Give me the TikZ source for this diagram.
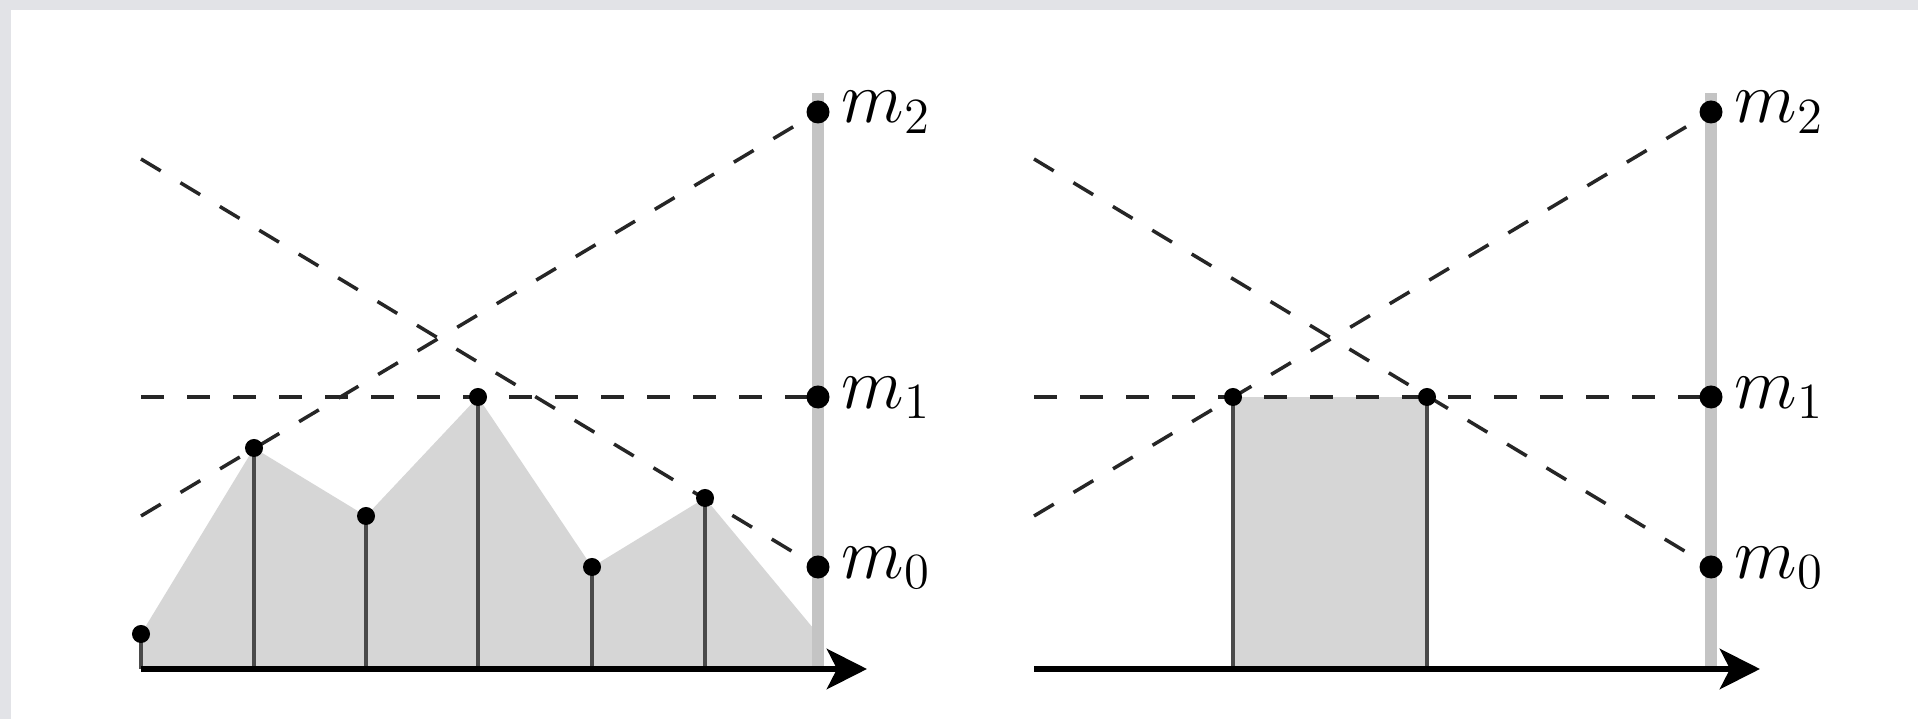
\documentclass[tikz,border=0pt]{standalone}
\usetikzlibrary{arrows.meta}
\definecolor{fillgray}{HTML}{D6D6D6}
\definecolor{bargray}{HTML}{C4C4C4}
\definecolor{stemgray}{HTML}{4A4A4A}
\definecolor{framegray}{HTML}{E2E3E7}
\begin{document}
\begin{tikzpicture}[x=0.01cm,y=-0.01cm,
  dashline/.style={dash pattern=on 0.23cm off 0.23cm, line width=0.035cm, color=black!85},
  stemline/.style={line width=0.038cm, stemgray},
  dotnode/.style={circle, fill=black, inner sep=0pt, minimum size=0.18cm},
  mdot/.style={circle, fill=black, inner sep=0pt, minimum size=0.23cm},
  barline/.style={line width=0.12cm, bargray},
  axisline/.style={line width=0.065cm, -{Stealth[length=0.4cm, width=0.4cm, inset=0.1cm]}},
  mlabel/.style={anchor=base west, inner sep=0pt, xshift=0.23cm, yshift=-0.11cm, font=\fontsize{21}{25}\selectfont},
  areafill/.style={fill=fillgray}]
\useasboundingbox (0,0) rectangle (1918,719);
\fill[white] (0,0) rectangle (1918,719);
\fill[framegray] (0,0) rectangle (1918,10);
\fill[framegray] (0,0) rectangle (11,719);

% ---------- left panel ----------
\coordinate (Lo) at (141,669);
\coordinate (Lend) at (867,669);
\coordinate (Lbt) at (818,93);
\coordinate (Lbb) at (818,669);
\coordinate (Lc2) at (818,112);
\coordinate (Lc1) at (818,397);
\coordinate (Lc0) at (818,567);
\coordinate (Ld0) at (141,159);
\coordinate (Li0) at (141,516);
\coordinate (Lh0) at (141,397);
\coordinate (Lq0) at (141,634);
\coordinate (Lq1) at (254,448);
\coordinate (Lq2) at (366,516);
\coordinate (Lq3) at (478,397);
\coordinate (Lq4) at (592,567);
\coordinate (Lq5) at (705,498);
\coordinate (Lq6) at (818,634);
\coordinate (Lb1) at (254,669);
\coordinate (Lb2) at (366,669);
\coordinate (Lb3) at (478,669);
\coordinate (Lb4) at (592,669);
\coordinate (Lb5) at (705,669);

\fill[areafill] (Lo) -- (Lq0) -- (Lq1) -- (Lq2) -- (Lq3) -- (Lq4) -- (Lq5) -- (Lq6) -- (Lbb) -- cycle;
\draw[barline] (Lbb) -- (Lbt);
\draw[dashline] (Ld0) -- (Lc0);
\draw[dashline] (Li0) -- (Lc2);
\draw[dashline] (Lh0) -- (Lc1);
\draw[stemline] (Lo) -- (Lq0);
\draw[stemline] (Lb1) -- (Lq1);
\draw[stemline] (Lb2) -- (Lq2);
\draw[stemline] (Lb3) -- (Lq3);
\draw[stemline] (Lb4) -- (Lq4);
\draw[stemline] (Lb5) -- (Lq5);
\node[dotnode] (Lp0) at (Lq0) {};
\node[dotnode] (Lp1) at (Lq1) {};
\node[dotnode] (Lp2) at (Lq2) {};
\node[dotnode] (Lp3) at (Lq3) {};
\node[dotnode] (Lp4) at (Lq4) {};
\node[dotnode] (Lp5) at (Lq5) {};
\node[mdot] (Lm2) at (Lc2) {};
\node[mdot] (Lm1) at (Lc1) {};
\node[mdot] (Lm0) at (Lc0) {};
\draw[axisline] (Lo) -- (Lend);
\node[mlabel] (Ll2) at (Lm2.center) {$m_2$};
\node[mlabel] (Ll1) at (Lm1.center) {$m_1$};
\node[mlabel] (Ll0) at (Lm0.center) {$m_0$};

% ---------- right panel ----------
\begin{scope}[shift={(893,0)}]
\coordinate (Ro) at (141,669);
\coordinate (Rend) at (867,669);
\coordinate (Rbt) at (818,93);
\coordinate (Rbb) at (818,669);
\coordinate (Rc2) at (818,112);
\coordinate (Rc1) at (818,397);
\coordinate (Rc0) at (818,567);
\coordinate (Rd0) at (141,159);
\coordinate (Ri0) at (141,516);
\coordinate (Rh0) at (141,397);
\coordinate (Rqa) at (340,397);
\coordinate (Rqb) at (534,397);
\coordinate (Rba) at (340,669);
\coordinate (Rbb2) at (534,669);

\fill[areafill] (Rba) -- (Rqa) -- (Rqb) -- (Rbb2) -- cycle;
\draw[barline] (Rbb) -- (Rbt);
\draw[dashline] (Rd0) -- (Rc0);
\draw[dashline] (Ri0) -- (Rc2);
\draw[dashline] (Rh0) -- (Rc1);
\draw[stemline] (Rba) -- (Rqa);
\draw[stemline] (Rbb2) -- (Rqb);
\node[dotnode] (Rpa) at (Rqa) {};
\node[dotnode] (Rpb) at (Rqb) {};
\node[mdot] (Rm2) at (Rc2) {};
\node[mdot] (Rm1) at (Rc1) {};
\node[mdot] (Rm0) at (Rc0) {};
\draw[axisline] (Ro) -- (Rend);
\node[mlabel] (Rl2) at (Rm2.center) {$m_2$};
\node[mlabel] (Rl1) at (Rm1.center) {$m_1$};
\node[mlabel] (Rl0) at (Rm0.center) {$m_0$};
\end{scope}
\end{tikzpicture}
\end{document}
